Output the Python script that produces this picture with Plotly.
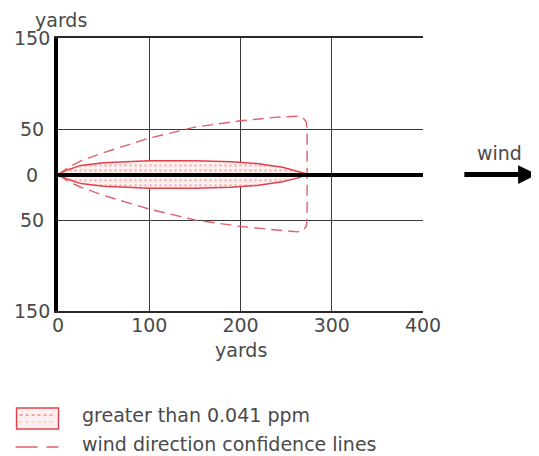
import plotly.graph_objects as go

# ---- data (yards) ----
zone_x_upper = [0, 10, 25, 50, 100, 150, 190, 218, 246, 262, 275]
zone_y_upper = [0, 5, 10, 13, 15, 15, 14, 12, 8, 4, 0]
zone_x_lower = [275, 262, 246, 218, 190, 150, 100, 50, 25, 10, 0]
zone_y_lower = [0, -4, -8, -12, -14, -15, -15, -13, -10, -5, 0]

conf_x_upper = [0, 10, 25, 50, 100, 150, 200, 240, 262, 268, 272, 273]
conf_y_upper = [0, 7, 15, 24, 40, 52, 59, 63, 64, 63, 58, 50]
conf_x_lower = [273, 272, 268, 262, 240, 200, 150, 100, 50, 25, 10, 0]
conf_y_lower = [-50, -57, -62, -63, -61, -57, -50, -38, -23, -14, -7, 0]

x_ticks = [0, 100, 200, 300, 400]
y_ticks = [150, 50, 0, -50, -150]
y_tick_labels = ["150", "50", "0", "50", "150"]

zone_label = "greater than 0.041 ppm"
conf_label = "wind direction confidence lines"

TXT = "#4a4a4a"
FONT = "DejaVu Sans"
ZONE_RED = "#e2414b"
CONF_RED = "#e0606c"

fig = go.Figure()

fig.add_trace(go.Scatter(
    x=zone_x_upper + zone_x_lower,
    y=zone_y_upper + zone_y_lower,
    mode="lines", fill="toself",
    line=dict(color=ZONE_RED, width=1.5),
    fillcolor="#fcecec",
    fillpattern=dict(shape=".", fgcolor="#ec8a90", bgcolor="#fdf2f2",
                     size=5, solidity=0.25),
    hoverinfo="skip", showlegend=False,
))

fig.add_trace(go.Scatter(
    x=conf_x_upper + conf_x_lower,
    y=conf_y_upper + conf_y_lower,
    mode="lines",
    line=dict(color=CONF_RED, width=1.4, dash="11px,6px"),
    hoverinfo="skip", showlegend=False,
))

# page offset (browser default body margin) and target plot-area pixels
OFF = 8
L, R, T, B = 57.5, 423.0, 38.0, 311.0
W, H = 539 - OFF, 456 - OFF


def px(xp):
    return (xp - L) / (R - L)


def py(yp):
    return (B - yp) / (B - T)


fig.update_layout(
    width=W, height=H,
    margin=dict(l=L - OFF, r=W - (R - OFF), t=T - OFF, b=H - (B - OFF), pad=0),
    paper_bgcolor="white", plot_bgcolor="white",
    showlegend=False,
    font=dict(family=FONT, size=19, color=TXT),
    xaxis=dict(
        range=[0, 400], tickvals=x_ticks, ticks="",
        showgrid=True, gridcolor="#3a3a3a", gridwidth=1,
        showline=True, linecolor="#2a2a2a", linewidth=1.5, mirror=True,
        zeroline=False, ticklabelstandoff=-4, layer="above traces",
        tickfont=dict(family=FONT, size=19, color=TXT),
        fixedrange=True,
    ),
    yaxis=dict(
        range=[-150, 150], tickvals=y_ticks, ticks="",
        showticklabels=False,
        showgrid=True, gridcolor="#3a3a3a", gridwidth=1,
        showline=True, linecolor="black", linewidth=3.5, mirror=False,
        zeroline=True, zerolinecolor="black", zerolinewidth=4,
        zerolinelayer="above traces",
        layer="above traces",
        fixedrange=True,
    ),
)

annotations = [
    dict(text="yards", x=px(61), y=py(8), xref="paper", yref="paper",
         showarrow=False, xanchor="center", yanchor="top", borderpad=0),
    dict(text="yards", x=200, y=py(350), xref="x", yref="paper",
         showarrow=False, xanchor="center", yanchor="middle"),
    dict(text="wind", x=px(500), y=py(153), xref="paper", yref="paper",
         showarrow=False, xanchor="center", yanchor="middle"),
    dict(text="", x=px(537), y=0, xref="paper", yref="y",
         ax=-74, ay=0, axref="pixel", ayref="pixel",
         showarrow=True, arrowhead=2, arrowsize=0.75, arrowwidth=5,
         arrowcolor="black"),
    dict(text=zone_label, x=px(80), y=py(415), xref="paper", yref="paper",
         showarrow=False, xanchor="left", yanchor="middle"),
    dict(text=conf_label, x=px(80), y=py(444), xref="paper", yref="paper",
         showarrow=False, xanchor="left", yanchor="middle"),
]
# y tick labels, centred in the left gutter (as in the reference)
for v, lab in zip(y_ticks, y_tick_labels):
    annotations.append(dict(text=lab, x=px(31), y=v, xref="paper", yref="y",
                            showarrow=False, xanchor="center", yanchor="middle"))
fig.update_layout(annotations=annotations)

shapes = [
    dict(type="rect", xref="paper", yref="paper",
         x0=px(16), x1=px(58), y0=py(429), y1=py(408),
         line=dict(color=ZONE_RED, width=1.5), fillcolor="#fdf0f0"),
    dict(type="line", xref="paper", yref="paper",
         x0=px(19), x1=px(55), y0=py(415), y1=py(415),
         line=dict(color="#ec8a90", width=1.5, dash="dot")),
    dict(type="line", xref="paper", yref="paper",
         x0=px(19), x1=px(55), y0=py(422), y1=py(422),
         line=dict(color="#f3b5b9", width=1.2, dash="dot")),
    dict(type="line", xref="paper", yref="paper",
         x0=px(15), x1=px(58), y0=py(447), y1=py(447),
         line=dict(color=CONF_RED, width=1.4, dash="22px,9px")),
]
fig.update_layout(shapes=shapes)

fig.write_html("out.html")
